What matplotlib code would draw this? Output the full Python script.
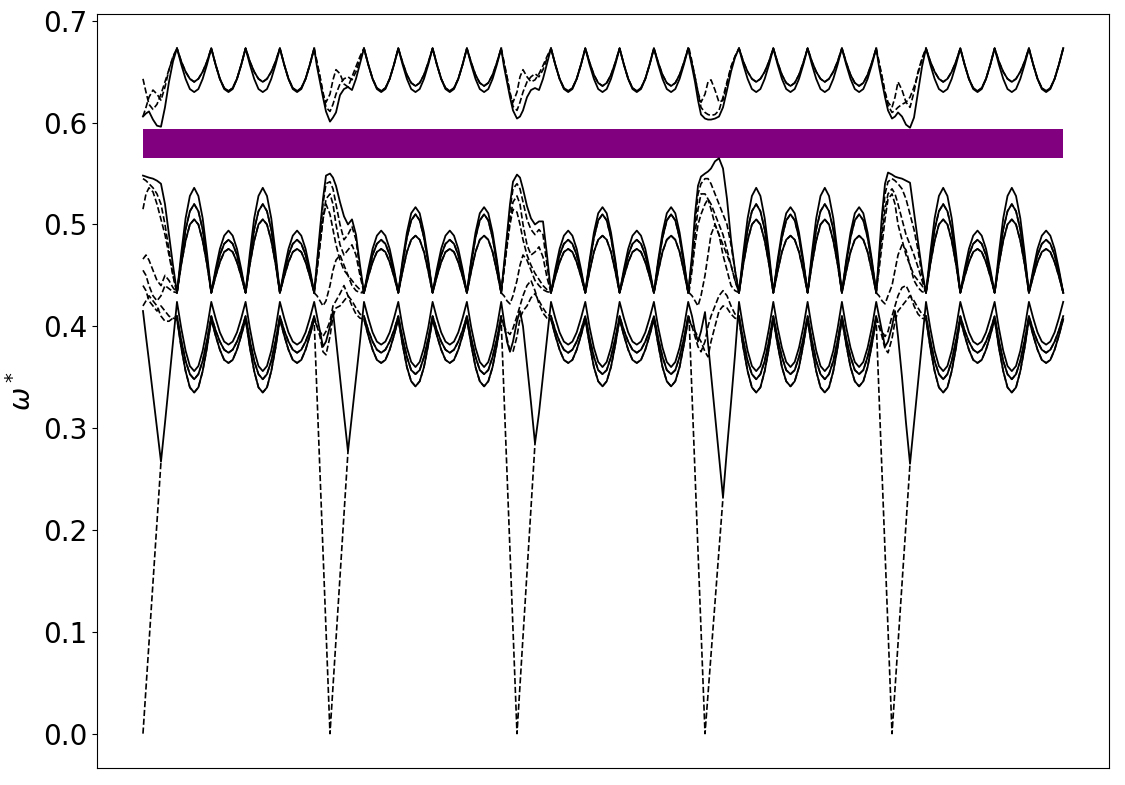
import numpy as np
import matplotlib.pyplot as plt

# k-path index where each segment starts (high-symmetry points) and where the path ends
seg_start = [0, 187, 374, 562, 749]
k_end = 920
valley_k = [34, 68.3, 102.6, 136.9, 171.2]     # middle-band touching points inside a segment
arch_k = [0, 4.3, 8.6, 12.9, 17.2, 21.4, 25.7, 30.0]   # sample points inside one arch
trans_k = [-13, -10, -7, -4, 0, 3, 6, 10, 14, 18, 22, 26, 30]  # around a segment start

# kind of arch seen in each segment (H = tall, L = low, h = medium)
arch_type = ["HLHL", "LhLh", "LhLh", "HhHh", "HLHL"]

# ---- middle band (0.43 - 0.55)
m1_arch = {"H": [0.433, 0.472, 0.506, 0.528, 0.536, 0.528, 0.506, 0.472],
           "L": [0.433, 0.456, 0.476, 0.489, 0.494, 0.489, 0.476, 0.456],
           "h": [0.433, 0.465, 0.492, 0.511, 0.517, 0.511, 0.492, 0.465]}
m2_arch = {"H": [0.433, 0.466, 0.495, 0.513, 0.520, 0.513, 0.495, 0.466],
           "L": [0.433, 0.453, 0.470, 0.481, 0.485, 0.481, 0.470, 0.453],
           "h": [0.433, 0.462, 0.487, 0.504, 0.510, 0.504, 0.487, 0.462]}
m3_arch = {"H": [0.433, 0.461, 0.484, 0.500, 0.505, 0.500, 0.484, 0.461],
           "L": [0.433, 0.449, 0.463, 0.473, 0.476, 0.473, 0.463, 0.449],
           "h": [0.433, 0.454, 0.473, 0.485, 0.489, 0.485, 0.473, 0.454]}
m1_trans = [[0.548, 0.547, 0.546, 0.545, 0.543, 0.540, 0.52, 0.49, 0.46],
            [0.463, 0.495, 0.525, 0.548, 0.550, 0.546, 0.538, 0.522, 0.508, 0.500, 0.505, 0.49, 0.46],
            [0.46, 0.49, 0.52, 0.542, 0.549, 0.546, 0.535, 0.518, 0.506, 0.500, 0.503, 0.503, 0.47],
            [0.47, 0.51, 0.538, 0.547, 0.550, 0.552, 0.555, 0.562, 0.565, 0.555, 0.525, 0.485, 0.455],
            [0.47, 0.51, 0.54, 0.551, 0.549, 0.547, 0.546, 0.545, 0.543, 0.541, 0.512, 0.483, 0.455]]
m2_trans = [[0.545, 0.543, 0.540, 0.536, 0.530, 0.52, 0.50, 0.475, 0.45],
            [0.46, 0.49, 0.52, 0.54, 0.542, 0.535, 0.52, 0.50, 0.485, 0.49, 0.498, 0.485, 0.455],
            [0.458, 0.485, 0.515, 0.535, 0.54, 0.535, 0.522, 0.505, 0.495, 0.49, 0.495, 0.49, 0.46],
            [0.465, 0.5, 0.53, 0.54, 0.545, 0.545, 0.54, 0.53, 0.52, 0.51, 0.50, 0.48, 0.455],
            [0.465, 0.5, 0.53, 0.542, 0.545, 0.543, 0.54, 0.535, 0.525, 0.51, 0.495, 0.475, 0.45]]
m3_trans = [[0.515, 0.53, 0.536, 0.532, 0.52, 0.505, 0.49, 0.47, 0.45],
            [0.455, 0.48, 0.505, 0.525, 0.53, 0.52, 0.50, 0.48, 0.47, 0.475, 0.48, 0.47, 0.45],
            [0.455, 0.48, 0.505, 0.522, 0.528, 0.52, 0.50, 0.48, 0.47, 0.473, 0.478, 0.468, 0.448],
            [0.46, 0.49, 0.515, 0.53, 0.53, 0.525, 0.515, 0.50, 0.49, 0.48, 0.47, 0.46, 0.445],
            [0.46, 0.49, 0.515, 0.53, 0.535, 0.53, 0.52, 0.505, 0.49, 0.48, 0.47, 0.458, 0.445]]
mid_dash_a = [[0.466, 0.47, 0.465, 0.455, 0.445, 0.44, 0.45, 0.445, 0.438],
              [0.455, 0.48, 0.505, 0.52, 0.51, 0.495, 0.48, 0.465, 0.455, 0.45, 0.445, 0.44, 0.436],
              [0.455, 0.478, 0.5, 0.515, 0.512, 0.50, 0.485, 0.47, 0.46, 0.452, 0.446, 0.44, 0.436],
              [0.455, 0.48, 0.50, 0.51, 0.52, 0.525, 0.52, 0.51, 0.50, 0.49, 0.475, 0.46, 0.445],
              [0.455, 0.48, 0.505, 0.525, 0.53, 0.52, 0.50, 0.485, 0.47, 0.46, 0.45, 0.445, 0.44]]
mid_dash_b = [[0.455, 0.45, 0.44, 0.43, 0.425, 0.43, 0.44, 0.437, 0.434],
              [0.43, 0.425, 0.42, 0.425, 0.44, 0.455, 0.465, 0.47, 0.46, 0.45, 0.44, 0.435, 0.433],
              [0.43, 0.425, 0.422, 0.43, 0.445, 0.46, 0.47, 0.465, 0.455, 0.445, 0.44, 0.436, 0.434],
              [0.43, 0.425, 0.42, 0.43, 0.45, 0.47, 0.49, 0.50, 0.49, 0.47, 0.455, 0.44, 0.435],
              [0.43, 0.425, 0.422, 0.43, 0.44, 0.455, 0.47, 0.48, 0.475, 0.46, 0.445, 0.438, 0.434]]

# ---- upper band (0.60 - 0.675)
u1_arch = {"H": [0.673, 0.657, 0.643, 0.633, 0.630, 0.633, 0.643, 0.657],
           "L": [0.673, 0.657, 0.643, 0.633, 0.630, 0.633, 0.643, 0.657],
           "h": [0.673, 0.657, 0.643, 0.633, 0.630, 0.633, 0.643, 0.657]}
u2_arch = {"H": [0.673, 0.660, 0.650, 0.643, 0.640, 0.643, 0.650, 0.660],
           "L": [0.673, 0.657, 0.643, 0.634, 0.631, 0.634, 0.643, 0.657],
           "h": [0.673, 0.659, 0.647, 0.639, 0.636, 0.639, 0.647, 0.659]}
u1_trans = [[0.606, 0.609, 0.611, 0.603, 0.597, 0.596, 0.615, 0.64, 0.66],
            [0.655, 0.64, 0.625, 0.611, 0.601, 0.605, 0.610, 0.627, 0.633, 0.635, 0.632, 0.643, 0.658],
            [0.655, 0.64, 0.625, 0.612, 0.604, 0.606, 0.612, 0.625, 0.632, 0.634, 0.632, 0.643, 0.658],
            [0.655, 0.64, 0.622, 0.608, 0.604, 0.603, 0.603, 0.604, 0.606, 0.615, 0.632, 0.65, 0.664],
            [0.655, 0.64, 0.625, 0.612, 0.604, 0.606, 0.610, 0.606, 0.598, 0.595, 0.605, 0.63, 0.655]]
u2_trans = [[0.643, 0.63, 0.618, 0.613, 0.618, 0.628, 0.64, 0.652, 0.664],
            [0.658, 0.645, 0.63, 0.615, 0.611, 0.618, 0.628, 0.638, 0.643, 0.645, 0.642, 0.65, 0.662],
            [0.658, 0.645, 0.63, 0.616, 0.612, 0.62, 0.63, 0.64, 0.645, 0.648, 0.645, 0.652, 0.663],
            [0.658, 0.645, 0.63, 0.615, 0.61, 0.608, 0.607, 0.608, 0.612, 0.625, 0.64, 0.655, 0.665],
            [0.658, 0.645, 0.63, 0.617, 0.61, 0.612, 0.615, 0.618, 0.62, 0.625, 0.635, 0.648, 0.662]]
up_dash = [[0.606, 0.615, 0.625, 0.632, 0.628, 0.622, 0.635, 0.652, 0.665],
           [0.66, 0.645, 0.628, 0.62, 0.628, 0.642, 0.652, 0.648, 0.638, 0.635, 0.645, 0.655, 0.665],
           [0.66, 0.645, 0.628, 0.62, 0.63, 0.645, 0.652, 0.645, 0.64, 0.642, 0.648, 0.656, 0.665],
           [0.66, 0.645, 0.63, 0.62, 0.628, 0.64, 0.642, 0.632, 0.62, 0.622, 0.638, 0.654, 0.665],
           [0.66, 0.645, 0.63, 0.62, 0.615, 0.625, 0.64, 0.632, 0.62, 0.615, 0.63, 0.65, 0.663]]

# ---- lower band (0.33 - 0.42) and the dips near each segment start
l1_arch = {"H": [0.424, 0.398, 0.376, 0.361, 0.356, 0.361, 0.376, 0.398],
           "L": [0.424, 0.408, 0.394, 0.385, 0.382, 0.385, 0.394, 0.408],
           "h": [0.424, 0.399, 0.379, 0.365, 0.360, 0.365, 0.379, 0.399]}
l2_arch = {"H": [0.410, 0.386, 0.366, 0.353, 0.348, 0.353, 0.366, 0.386],
           "L": [0.410, 0.396, 0.385, 0.377, 0.374, 0.377, 0.385, 0.396],
           "h": [0.410, 0.388, 0.370, 0.357, 0.353, 0.357, 0.370, 0.388]}
l3_arch = {"H": [0.407, 0.379, 0.356, 0.340, 0.335, 0.340, 0.356, 0.379],
           "L": [0.407, 0.391, 0.377, 0.367, 0.364, 0.367, 0.377, 0.391],
           "h": [0.407, 0.382, 0.360, 0.346, 0.341, 0.346, 0.360, 0.382]}
l1_trans = [[0.415, 0.39, 0.366, 0.333, 0.30, 0.267, 0.305, 0.345, 0.385],
            [0.41, 0.395, 0.38, 0.385, 0.40, 0.415, 0.387, 0.35, 0.313, 0.277, 0.313, 0.349, 0.385],
            [0.405, 0.385, 0.375, 0.385, 0.405, 0.415, 0.40, 0.363, 0.325, 0.285, 0.315, 0.352, 0.388],
            [0.41, 0.395, 0.385, 0.395, 0.414, 0.384, 0.354, 0.313, 0.272, 0.232, 0.28, 0.325, 0.372],
            [0.41, 0.395, 0.38, 0.385, 0.40, 0.415, 0.39, 0.35, 0.305, 0.265, 0.305, 0.345, 0.385]]
l2_trans = [[0.42, 0.425, 0.43, 0.425, 0.42, 0.41, 0.405, 0.405, 0.408],
            [0.40, 0.39, 0.375, 0.372, 0.39, 0.41, 0.418, 0.42, 0.425, 0.43, 0.425, 0.418, 0.412],
            [0.40, 0.388, 0.376, 0.375, 0.39, 0.408, 0.415, 0.42, 0.428, 0.432, 0.425, 0.418, 0.412],
            [0.40, 0.39, 0.38, 0.375, 0.385, 0.40, 0.41, 0.42, 0.43, 0.435, 0.43, 0.42, 0.412],
            [0.40, 0.39, 0.378, 0.374, 0.388, 0.405, 0.415, 0.42, 0.425, 0.43, 0.425, 0.418, 0.412]]
l3_trans = [[0.44, 0.435, 0.425, 0.42, 0.415, 0.42, 0.415, 0.41, 0.408],
            [0.40, 0.395, 0.39, 0.395, 0.405, 0.42, 0.425, 0.432, 0.44, 0.43, 0.42, 0.412, 0.408],
            [0.40, 0.395, 0.392, 0.398, 0.41, 0.42, 0.43, 0.44, 0.445, 0.435, 0.422, 0.413, 0.408],
            [0.40, 0.395, 0.39, 0.385, 0.375, 0.37, 0.385, 0.40, 0.415, 0.42, 0.418, 0.412, 0.408],
            [0.40, 0.395, 0.39, 0.395, 0.41, 0.42, 0.43, 0.438, 0.44, 0.432, 0.42, 0.412, 0.408]]

# acoustic branch: zero at each segment start, meets the dip 18 steps later
acoustic_top = 0.41
dip_value = [0.267, 0.277, 0.285, 0.232, 0.265]
dip_k = 18

# band gap
gap_low, gap_high = 0.5655, 0.5935


def build(trans, arches, last):
    xs, ys, per = [], [], []
    for s in range(5):
        b = seg_start[s]
        tr = trans[s]
        rk = trans_k[-len(tr):]
        xs += [b + r for r in rk]
        ys += tr
        per += [False] * len(tr)
        for j, t in enumerate(arch_type[s]):
            xs += [b + valley_k[j] + a for a in arch_k]
            ys += arches[t]
            per += [True] * len(arch_k)
        xs.append(b + valley_k[4])
        ys.append(last)
        per.append(True)
    return np.array(xs), np.array(ys), np.array(per)


def plot_band(ax, trans, arches, last, full_solid):
    xs, ys, per = build(trans, arches, last)
    if full_solid:
        ax.plot(xs, ys, 'k-', lw=1.3)
    else:
        ax.plot(xs, ys, 'k--', lw=1.2)
        ax.plot(xs, np.where(per, ys, np.nan), 'k-', lw=1.3)


def plot_extra(ax, trans, edge):
    for s in range(5):
        b = seg_start[s]
        tr = trans[s]
        rk = trans_k[-len(tr):]
        xs = [b + r for r in rk] + [b + valley_k[0]]
        ys = list(tr) + [edge]
        if s > 0:
            xs = [b - 16] + xs
            ys = [edge] + ys
        ax.plot(xs, ys, 'k--', lw=1.2)


fig = plt.figure(figsize=(11.25, 7.85), dpi=100)
ax = fig.add_axes([0.0862, 0.0217, 0.8996, 0.9605])

ax.fill_between([0, k_end], gap_low, gap_high, color='purple', lw=0)

plot_band(ax, u2_trans, u2_arch, 0.673, False)
plot_band(ax, u1_trans, u1_arch, 0.673, True)
plot_band(ax, m3_trans, m3_arch, 0.433, False)
plot_band(ax, m2_trans, m2_arch, 0.433, False)
plot_band(ax, m1_trans, m1_arch, 0.433, True)
plot_band(ax, l3_trans, l3_arch, 0.407, False)
plot_band(ax, l2_trans, l2_arch, 0.410, False)
plot_band(ax, l1_trans, l1_arch, 0.424, True)

plot_extra(ax, up_dash, 0.673)
plot_extra(ax, mid_dash_a, 0.433)
plot_extra(ax, mid_dash_b, 0.433)

for s in range(5):
    b = seg_start[s]
    xs = [b, b + dip_k]
    ys = [0.0, dip_value[s]]
    if s > 0:
        xs = [b - 16] + xs
        ys = [acoustic_top] + ys
    ax.plot(xs, ys, 'k--', lw=1.2)

ax.set_xlim(-46, 966)
ax.set_ylim(-0.0337, 0.7067)
ax.set_xticks([])
ax.tick_params(axis='y', labelsize=20)
ax.set_ylabel(r'$\omega^*$', fontsize=20)

plt.savefig('out.png')
